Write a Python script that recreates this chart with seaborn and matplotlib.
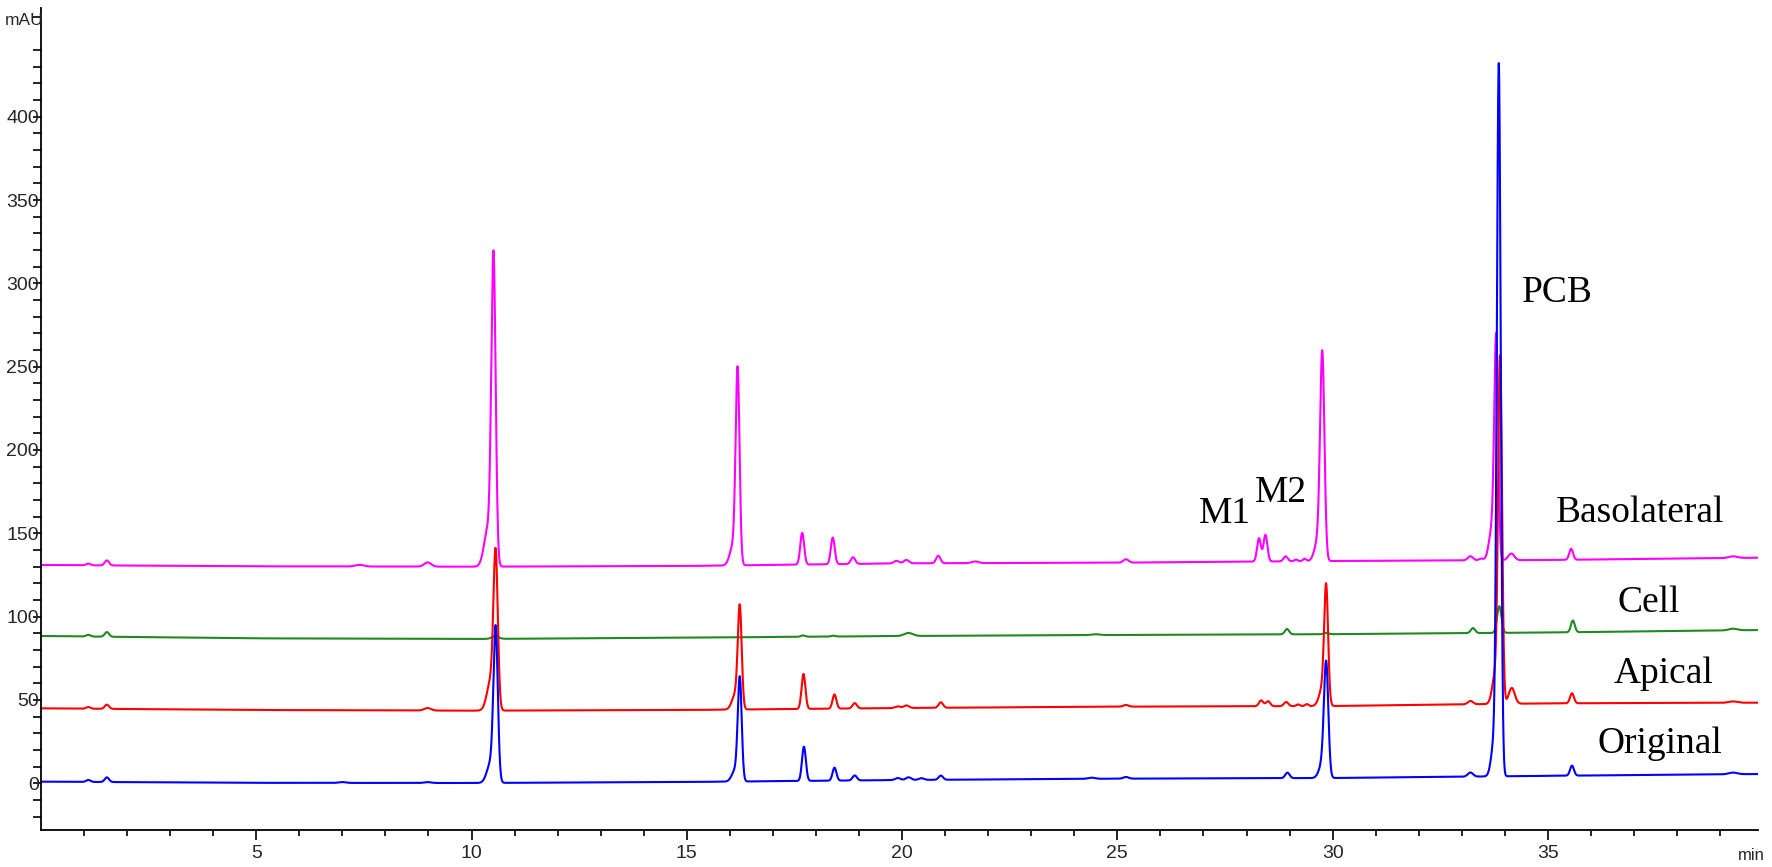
import numpy as np
import pandas as pd
import matplotlib
matplotlib.use("Agg")
import matplotlib.pyplot as plt
import seaborn as sns

# --------------------------------------------
# DATA
# --------------------------------------------
samples = ["Basolateral", "Cell", "Apical", "Original"]
colors = ["#ff00ff", "#1f8a1f", "#ff0000", "#0000ff"]

# baseline level (mAU) at a few retention times (min)
base_t = [0, 5, 10, 15, 20, 25, 30, 35, 40]
base_baso = [131.0, 130.2, 130.0, 130.4, 132.0, 132.4, 133.4, 134.0, 135.4]
base_cell = [88.4, 87.0, 86.6, 87.4, 88.4, 89.0, 89.5, 90.5, 92.0]
base_apical = [45.0, 44.0, 43.6, 44.0, 45.2, 46.0, 46.4, 48.0, 48.4]
base_orig = [1.0, 0.3, 0.2, 0.8, 2.0, 2.8, 3.2, 4.5, 5.6]

# peaks: retention time (min), height above baseline (mAU), width (min)
rt_baso = [1.10, 1.53, 7.40, 8.98, 10.38, 10.51, 16.08, 16.18, 17.68, 18.39, 18.86,
           19.87, 20.10, 20.84, 21.70, 25.20, 28.29, 28.44, 28.91, 29.15, 29.35,
           29.66, 29.76, 33.20, 33.45, 33.70, 33.80, 34.15, 35.54, 39.30]
h_baso = [1.0, 3.0, 1.0, 2.5, 22, 182, 12, 114, 19, 16, 4,
          1.5, 2.0, 4.5, 1.0, 2.0, 14, 16, 3.0, 1.0, 1.5,
          12, 121, 2.5, 1.0, 18, 130, 4.0, 6.5, 1.0]
w_baso = [0.05, 0.05, 0.10, 0.08, 0.09, 0.05, 0.08, 0.045, 0.045, 0.045, 0.05,
          0.06, 0.06, 0.05, 0.08, 0.06, 0.045, 0.045, 0.05, 0.04, 0.04,
          0.08, 0.05, 0.06, 0.05, 0.07, 0.045, 0.07, 0.045, 0.10]

rt_cell = [1.10, 1.53, 10.55, 17.70, 18.40, 20.15, 24.50, 28.94, 29.85, 33.26, 33.87, 35.58, 39.30]
h_cell = [1.0, 2.8, 1.5, 0.8, 0.5, 1.8, 0.5, 3.2, 0.8, 3.0, 16, 7.0, 1.0]
w_cell = [0.05, 0.05, 0.08, 0.05, 0.05, 0.10, 0.10, 0.05, 0.05, 0.05, 0.05, 0.045, 0.10]

rt_apical = [1.10, 1.53, 8.98, 10.45, 10.56, 16.13, 16.23, 17.71, 18.43, 18.90,
             19.90, 20.10, 20.90, 25.20, 28.34, 28.50, 28.92, 29.20, 29.40,
             29.77, 29.85, 33.20, 33.78, 33.89, 34.16, 35.56, 39.30]
h_apical = [1.0, 2.5, 1.5, 18, 89, 9, 59, 21, 8.5, 3.2,
            1.0, 1.5, 3.3, 1.0, 3.5, 3.0, 2.5, 1.0, 1.2,
            11, 67, 2.0, 18, 204, 9.5, 6.0, 0.8]
w_apical = [0.05, 0.05, 0.08, 0.09, 0.05, 0.08, 0.045, 0.045, 0.045, 0.05,
            0.06, 0.06, 0.05, 0.06, 0.05, 0.05, 0.05, 0.04, 0.04,
            0.08, 0.045, 0.06, 0.07, 0.045, 0.07, 0.045, 0.10]

rt_orig = [1.10, 1.53, 7.00, 8.98, 10.45, 10.56, 16.13, 16.23, 17.72, 18.43, 18.90,
           19.90, 20.15, 20.45, 20.90, 24.40, 25.20, 28.95, 29.77, 29.85,
           33.20, 33.76, 33.86, 35.56, 39.30]
h_orig = [1.2, 2.8, 0.5, 0.5, 12, 89, 7, 60, 20.5, 7.8, 3.0,
          1.2, 1.6, 1.0, 2.5, 0.7, 1.0, 3.3, 9, 65,
          2.5, 22, 420, 6.0, 1.0]
w_orig = [0.05, 0.05, 0.08, 0.08, 0.09, 0.05, 0.08, 0.045, 0.045, 0.045, 0.05,
          0.06, 0.06, 0.06, 0.05, 0.08, 0.06, 0.05, 0.08, 0.05,
          0.06, 0.07, 0.045, 0.045, 0.10]

# peak labels (text, retention time, mAU)
labels = ["Basolateral", "Cell", "Apical", "Original", "PCB", "M1", "M2"]
label_x = [37.13, 37.33, 37.68, 37.61, 35.22, 27.51, 28.81]
label_y = [156.8, 102.8, 60.2, 18.2, 288.5, 156.2, 168.8]

# --------------------------------------------
# BUILD TRACES
# --------------------------------------------
t = np.arange(0, 39.9, 0.005)


def trace(base, rts, hs, ws):
    y = np.interp(t, base_t, base)
    for r, h, w in zip(rts, hs, ws):
        y = y + h * np.exp(-0.5 * ((t - r) / w) ** 2)
    return y


sig = {
    "Basolateral": trace(base_baso, rt_baso, h_baso, w_baso),
    "Cell": trace(base_cell, rt_cell, h_cell, w_cell),
    "Apical": trace(base_apical, rt_apical, h_apical, w_apical),
    "Original": trace(base_orig, rt_orig, h_orig, w_orig),
}
df = pd.concat([pd.DataFrame({"time": t, "mAU": sig[s], "sample": s}) for s in samples])

# --------------------------------------------
# PLOT
# --------------------------------------------
sns.set_theme(style="ticks")
plt.rcParams["font.family"] = ["Liberation Sans", "DejaVu Sans"]

W, H = 1772, 867
fig = plt.figure(figsize=(W / 100, H / 100), dpi=100)
ax = fig.add_axes([41 / W, 37 / H, (1758 - 41) / W, (830 - 8) / H])

sns.lineplot(data=df, x="time", y="mAU", hue="sample", hue_order=samples,
             palette=colors, estimator=None, sort=False, legend=False,
             linewidth=1.5, ax=ax)

ax.set_xlim(0, 39.88)
ax.set_ylim(-28, 465.2)
ax.set_xlabel("")
ax.set_ylabel("")
sns.despine(ax=ax)
for sp in ["left", "bottom"]:
    ax.spines[sp].set_color("black")
    ax.spines[sp].set_linewidth(1.3)

ax.set_xticks(range(5, 40, 5))
ax.set_xticks([i for i in range(1, 40) if i % 5], minor=True)
ax.set_yticks(range(0, 401, 50))
ax.set_yticks([i for i in range(-20, 461, 10) if i % 50], minor=True)
ax.tick_params(axis="x", which="major", length=7, width=1.2, pad=4, labelsize=14, color="black")
ax.tick_params(axis="x", which="minor", length=4.5, width=1.2, color="black")
ax.tick_params(axis="y", which="major", length=5.5, width=1.2, pad=-4, labelsize=14, color="black")
ax.tick_params(axis="y", which="minor", length=5.5, width=1.2, color="black")

for txt, x, y in zip(labels, label_x, label_y):
    ax.text(x, y, txt, ha="center", va="baseline", fontsize=27,
            family=["Liberation Serif", "DejaVu Serif"], color="black")

fig.text(24 / W, 1 - 20.5 / H, "mAU", ha="center", va="center", fontsize=12.5)
fig.text(1751 / W, 1 - 856 / H, "min", ha="center", va="center", fontsize=12)

fig.savefig("out.png", dpi=100)
